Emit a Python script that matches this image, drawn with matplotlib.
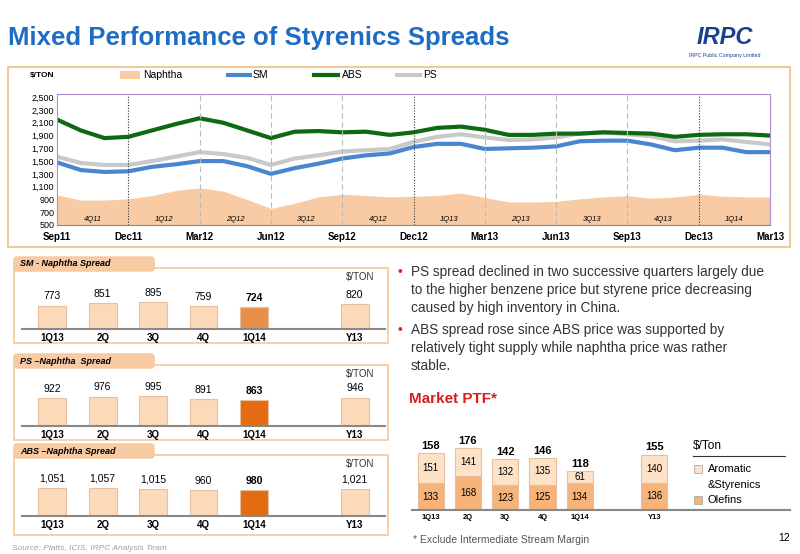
import matplotlib
matplotlib.use("Agg")
import matplotlib.pyplot as plt
from matplotlib.patches import Rectangle, FancyBboxPatch
import numpy as np

plt.rcParams['font.family'] = ['Liberation Sans', 'DejaVu Sans']

# ---- data ----
months = list(range(31))
tick_labels = ["Sep11", "Dec11", "Mar12", "Jun12", "Sep12", "Dec12", "Mar13", "Jun13", "Sep13", "Dec13", "Mar13"]
quarters = ["4Q11", "1Q12", "2Q12", "3Q12", "4Q12", "1Q13", "2Q13", "3Q13", "4Q13", "1Q14"]
abs_p = [2150, 1980, 1860, 1880, 1980, 2080, 2170, 2100, 1980, 1860, 1960, 1970, 1950, 1960, 1910, 1950,
         2020, 2040, 1990, 1910, 1910, 1930, 1930, 1950, 1940, 1930, 1880, 1910, 1920, 1920, 1900]
ps_p = [1570, 1470, 1440, 1440, 1500, 1570, 1640, 1610, 1550, 1440, 1540, 1590, 1650, 1670, 1690, 1800,
        1880, 1920, 1870, 1830, 1840, 1870, 1930, 1950, 1920, 1890, 1810, 1820, 1840, 1800, 1760]
sm_p = [1480, 1360, 1330, 1340, 1410, 1450, 1500, 1500, 1420, 1300, 1390, 1460, 1540, 1590, 1620, 1720,
        1770, 1770, 1690, 1700, 1710, 1730, 1810, 1820, 1820, 1760, 1670, 1710, 1710, 1640, 1640]
naphtha = [970, 890, 890, 910, 960, 1040, 1080, 1030, 900, 760, 840, 940, 980, 960, 940, 950,
           960, 1000, 930, 860, 860, 870, 910, 940, 960, 920, 940, 980, 950, 940, 940]

spread_cats = ["1Q13", "2Q", "3Q", "4Q", "1Q14", "Y13"]
sm_spread = [773, 851, 895, 759, 724, 820]
ps_spread = [922, 976, 995, 891, 863, 946]
abs_spread = [1051, 1057, 1015, 960, 980, 1021]

ptf_cats = ["1Q13", "2Q", "3Q", "4Q", "1Q14", "Y13"]
ptf_olefins = [133, 168, 123, 125, 134, 136]
ptf_arom = [151, 141, 132, 135, 61, 140]
ptf_total = [158, 176, 142, 146, 118, 155]

W, H = 800, 554
fig = plt.figure(figsize=(8, 5.54), dpi=100)
fig.patch.set_facecolor("white")

def fx(x): return x / W
def fy(y): return 1 - y / H
def ax_at(x0, y0, x1, y1):
    return fig.add_axes([fx(x0), fy(y1), fx(x1) - fx(x0), (y1 - y0) / H])

ov = fig.add_axes([0, 0, 1, 1]); ov.set_xlim(0, W); ov.set_ylim(H, 0); ov.axis("off")

# title
ov.text(8, 38, "Mixed Performance of Styrenics Spreads", color="#1f6cc4", fontsize=18.5, fontweight="bold", va="center")
ov.text(725, 38, "IRPC", color="#1a3f8f", fontsize=17, fontweight="bold", fontstyle="italic", va="center", ha="center")
ov.text(725, 56, "IRPC Public Company Limited", color="#1a3f8f", fontsize=3.8, va="center", ha="center")

# top box
ov.add_patch(Rectangle((8, 67), 782, 180, fill=False, ec="#f5c89a", lw=1.5))
ov.text(30, 75, "$/TON", fontsize=6, fontweight="bold", va="center")
ov.add_patch(Rectangle((120, 71), 20, 8, fc="#f9cba5", ec="none"))
ov.text(143, 75, "Naphtha", fontsize=7.5, va="center")
ov.plot([228, 250], [75, 75], color="#4a86d0", lw=3)
ov.text(253, 75, "SM", fontsize=7.5, va="center")
ov.plot([314, 338], [75, 75], color="#0e6a12", lw=3)
ov.text(342, 75, "ABS", fontsize=7.5, va="center")
ov.plot([397, 420], [75, 75], color="#c9c9c9", lw=3)
ov.text(423, 75, "PS", fontsize=7.5, va="center")

ax = ax_at(57, 94, 770, 225)
ax.fill_between(months, 500, naphtha, color="#f9cba5", lw=0)
ax.plot(months, ps_p, color="#c9c9c9", lw=3)
ax.plot(months, sm_p, color="#4a86d0", lw=3)
ax.plot(months, abs_p, color="#0e6a12", lw=3)
ax.set_xlim(0, 30); ax.set_ylim(500, 2550)
ax.set_yticks(range(500, 2600, 200))
ax.set_yticklabels([f"{v:,}" for v in range(500, 2600, 200)], fontsize=6.5)
ticks = list(range(0, 31, 3))
ax.set_xticks(ticks)
ax.set_xticklabels(tick_labels, fontsize=7, fontweight="bold")
for t in ticks[1:-1]:
    if t in (3, 15, 27):
        ax.axvline(t, color="#333333", lw=0.8, ls=(0, (1, 1.5)))
    else:
        ax.axvline(t, color="#bbbbbb", lw=0.8, ls=(0, (5, 3)))
for i, q in enumerate(quarters):
    ax.text(ticks[i] + 1.5, 590, q, fontsize=5.5, fontstyle="italic", ha="center", va="center")
for s in ["top", "right", "left"]:
    ax.spines[s].set_color("#b08ad0")
ax.spines["bottom"].set_color("#888888")
ax.tick_params(axis="y", length=0, pad=2)
ax.tick_params(axis="x", length=0, pad=5)

# spread tables
tables = [("SM - Naphtha Spread", sm_spread, 255, "#e8904a"),
          ("PS \u2013Naphtha  Spread", ps_spread, 352, "#e36c12"),
          ("ABS \u2013Naphtha Spread", abs_spread, 442, "#e36c12")]
pos = [0, 1, 2, 3, 4, 6]
for title, vals, ty, hl in tables:
    ov.add_patch(Rectangle((14, ty + 13), 374, 75 if ty < 440 else 80, fill=False, ec="#f5c89a", lw=1.2))
    ov.add_patch(FancyBboxPatch((14, ty + 2), 140, 14, boxstyle="round,pad=0,rounding_size=3", fc="#f9cba5", ec="#f5c89a"))
    ov.text(20, ty + 9, title, fontsize=6.5, fontweight="bold", fontstyle="italic", va="center")
    ov.text(374, ty + 22, "$/TON", fontsize=7, ha="right", va="center", color="#333333")
    a = ax_at(22, ty + 35, 385, ty + 74)
    cols = ["#fcd9b8"] * 6; cols[4] = hl
    a.bar(pos, vals, width=0.55, color=cols, edgecolor="#e8c0a0", lw=0.8)
    a.set_ylim(0, 1300 if ty < 440 else 1450)
    a.set_xlim(-0.6, 6.6)
    for p, v in zip(pos, vals):
        a.text(p, v + 150, f"{v:,}", ha="center", va="bottom", fontsize=7.5,
               fontweight="bold" if p == 4 else "normal")
    a.set_xticks(pos); a.set_xticklabels(spread_cats, fontsize=7, fontweight="bold")
    a.set_yticks([])
    for s in ["top", "right", "left"]:
        a.spines[s].set_visible(False)
    a.spines["bottom"].set_color("#888888"); a.spines["bottom"].set_linewidth(1.5)
    a.tick_params(length=0, pad=3)
    a.set_facecolor("none")

ov.text(12, 548, "Source: Platts, ICIS, IRPC Analysis Team", fontsize=6, fontstyle="italic", color="#a0a0a0", va="center")

# bullets
bl = [(272, "\u2022", "PS spread declined in two successive quarters largely due"),
      (290, "", "to the higher benzene price but styrene price decreasing"),
      (308, "", "caused by high inventory in China."),
      (330, "\u2022", "ABS spread rose since ABS price was supported by"),
      (348, "", "relatively tight supply while naphtha price was rather"),
      (366, "", "stable.")]
for y, b, t in bl:
    if b:
        ov.text(397, y, b, color="#e02020", fontsize=10, va="center")
    ov.text(411, y, t, fontsize=9.8, va="center", color="#333333")
ov.text(409, 399, "Market PTF*", color="#d81e1e", fontsize=11, fontweight="bold", va="center")

# Market PTF
m = ax_at(412, 420, 688, 510)
pp = [0, 1, 2, 3, 4, 6]
m.bar(pp, ptf_olefins, width=0.7, color="#f6b37a", edgecolor="#e8c0a0", lw=0.8)
m.bar(pp, ptf_arom, bottom=ptf_olefins, width=0.7, color="#fde2c8", edgecolor="#e8c0a0", lw=0.8)
m.set_ylim(0, 450); m.set_xlim(-0.5, 6.9)
for p, o, a_, t in zip(pp, ptf_olefins, ptf_arom, ptf_total):
    m.text(p, o / 2, str(o), ha="center", va="center", fontsize=7)
    m.text(p, o + a_ / 2, str(a_), ha="center", va="center", fontsize=7)
    m.text(p, o + a_ + 12, str(t), ha="center", va="bottom", fontsize=8, fontweight="bold")
m.set_xticks(pp); m.set_xticklabels(ptf_cats, fontsize=5.5, fontweight="bold")
m.set_yticks([])
for s in ["top", "right", "left"]:
    m.spines[s].set_visible(False)
m.spines["bottom"].set_color("#888888"); m.spines["bottom"].set_linewidth(1.5)
m.tick_params(length=0, pad=3)
m.set_facecolor("none")
ov.plot([686, 790], [509.5, 509.5], color="#888888", lw=1.5)
ov.text(693, 446, "$/Ton", fontsize=8.5, va="center")
ov.plot([693, 785], [456, 456], color="#333333", lw=0.8)
ov.add_patch(Rectangle((694, 465), 8, 8, fc="#fde2c8", ec="#aaaaaa", lw=0.6))
ov.text(708, 469, "Aromatic", fontsize=8, va="center")
ov.text(708, 485, "&Styrenics", fontsize=8, va="center")
ov.add_patch(Rectangle((694, 496), 8, 8, fc="#f6b37a", ec="#aaaaaa", lw=0.6))
ov.text(708, 500, "Olefins", fontsize=8, va="center")

ov.text(413, 540, "* Exclude Intermediate Stream Margin", fontsize=7.5, color="#555555", va="center")
ov.text(790, 538, "12", fontsize=7.5, ha="right", va="center")

fig.savefig("out.png", dpi=100)
